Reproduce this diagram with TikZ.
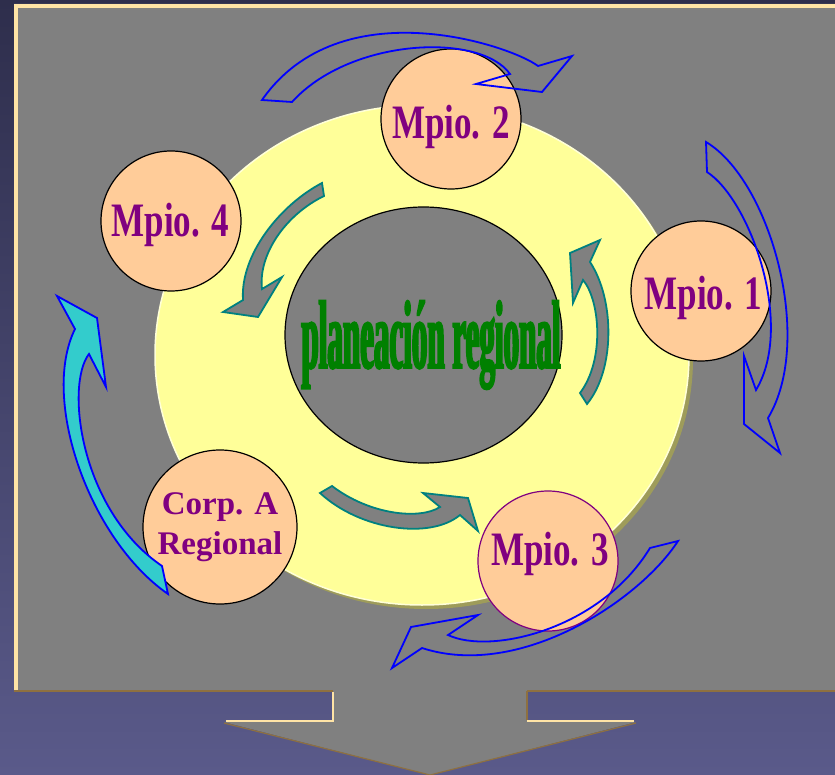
\documentclass[tikz,border=0pt]{standalone}
\usepackage{fontspec}
\usetikzlibrary{shapes.geometric}
\setmainfont{Liberation Serif}
\newfontfamily\munifont[FakeStretch=0.73]{Liberation Serif}
\newfontfamily\planfont[FakeStretch=0.32,FakeBold=2]{Liberation Serif}
\definecolor{bgtop}{HTML}{2E2E4C}
\definecolor{bgbot}{HTML}{5A5A8A}
\definecolor{panelgray}{HTML}{808080}
\definecolor{cream}{HTML}{FFE4A6}
\definecolor{bevel}{HTML}{8E7040}
\definecolor{disc}{HTML}{FFFF99}
\definecolor{discedge}{HTML}{FFFFD8}
\definecolor{discshadow}{HTML}{9E9C5A}
\definecolor{peach}{HTML}{FFCC99}
\definecolor{munipurple}{HTML}{800080}
\definecolor{tealline}{HTML}{008080}
\definecolor{cyanfill}{HTML}{33CCCC}
\definecolor{plangreen}{HTML}{008000}
\begin{document}
\begin{tikzpicture}[x=1pt, y=-1pt,
  muni/.style={circle, draw=black, line width=1.2pt, fill=peach, minimum size=140pt, inner sep=0pt},
  munitext/.style={anchor=base, text=munipurple, inner sep=0pt, font={\munifont\bfseries\fontsize{48}{50}\selectfont}},
  outerarrow/.style={draw=blue, line width=1.8pt},
  innerarrow/.style={draw=tealline, fill=panelgray, line width=1.8pt}]
  \useasboundingbox (0,0) rectangle (835,775);
  % fondo
  \shade[top color=bgtop, bottom color=bgbot] (0,0) rectangle (835,775);
  % panel y flecha de abajo
  \fill[panelgray] (14,4) -- (840,4) -- (840,690) -- (527,690) -- (527,721) -- (636,722) -- (430,775) -- (224,722) -- (333,721) -- (333,690) -- (14,690) -- cycle;
  \draw[cream, line width=4pt] (16,690) -- (16,6) -- (840,6);
  \draw[cream, line width=2pt] (333,692) -- (333,721) -- (226,721);
  \draw[cream, line width=2pt] (527,721) -- (634,721);
  \draw[bevel, line width=1.5pt] (14,691) -- (333,691) (527,691) -- (840,691) (527,691) -- (527,720);
  \draw[bevel, line width=1.2pt] (636,723) -- (430,775) -- (224,723);
  % disco amarillo
  \fill[discshadow] (426,359) ellipse [x radius=267, y radius=250];
  \filldraw[draw=discedge, fill=disc, line width=1.5pt] (422,355) ellipse [x radius=267, y radius=250];
  % centro
  \node[ellipse, draw=black, line width=1.2pt, fill=panelgray, minimum width=277pt, minimum height=256pt, inner sep=0pt] (plan) at (423.5,335) {};
  \node[anchor=base, inner sep=0pt, text=plangreen, font={\planfont\bfseries\fontsize{97}{100}\selectfont}] (plantext) at (431,368) {planeación regional};
  % flechas grises
  \filldraw[innerarrow] (322,183) .. controls (280,205) and (240,255) .. (243,300) -- (223,312) -- (258,317) -- (282,277) -- (262,289) .. controls (258,255) and (285,215) .. (324,196) -- cycle;
  \filldraw[innerarrow] (587,404) .. controls (615,370) and (615,300) .. (590,262) -- (600,240) -- (570,253) -- (573,303) -- (583,280) .. controls (600,300) and (605,360) .. (580,393) -- cycle;
  \filldraw[innerarrow] (320,493) -- (332,486) .. controls (370,515) and (420,520) .. (440,507) -- (423,493) -- (468,498) -- (478,531) -- (460,515) .. controls (430,540) and (360,530) .. (320,493) -- cycle;
  % municipios
  \node[muni] (m2) at (451,119) {};
  \node[munitext] (m2t) at (451,139) {Mpio. 2};
  \node[muni] (m4) at (171,221) {};
  \node[munitext] (m4t) at (170.5,237) {Mpio. 4};
  \node[muni] (m1) at (701,291) {};
  \node[munitext] (m1t) at (703.5,310) {Mpio. 1};
  \node[muni, draw=munipurple] (m3) at (548,561) {};
  \node[munitext] (m3t) at (550,565) {Mpio. 3};
  \node[muni, minimum size=154pt] (corp) at (220,527) {};
  \node[inner sep=0pt, align=center, text=munipurple, font={\bfseries\fontsize{33}{40}\selectfont}] (corpt) at (220,527) {Corp. A\\Regional};
  % flechas azules
  \draw[outerarrow] (262,100) .. controls (340,-12) and (510,45) .. (538,66) -- (572,56) -- (542,92) -- (476,84) -- (510,74) .. controls (480,32) and (350,38) .. (292,102) -- cycle;
  \draw[outerarrow] (706,142) .. controls (770,180) and (815,340) .. (768,418) -- (780,453) -- (744,424) -- (744,356) -- (756,390) .. controls (795,325) and (750,200) .. (707,172) -- cycle;
  \draw[outerarrow] (678,541) .. controls (640,600) and (520,680) .. (422,648) -- (392,668) -- (411,627) -- (478,615) -- (448,635) .. controls (490,655) and (600,630) .. (650,548) -- cycle;
  \filldraw[outerarrow, fill=cyanfill] (168,594) .. controls (90,540) and (40,400) .. (75,329) -- (57,296) -- (97,318) -- (106,387) -- (89,354) .. controls (65,385) and (80,510) .. (162,566) -- cycle;
\end{tikzpicture}
\end{document}
